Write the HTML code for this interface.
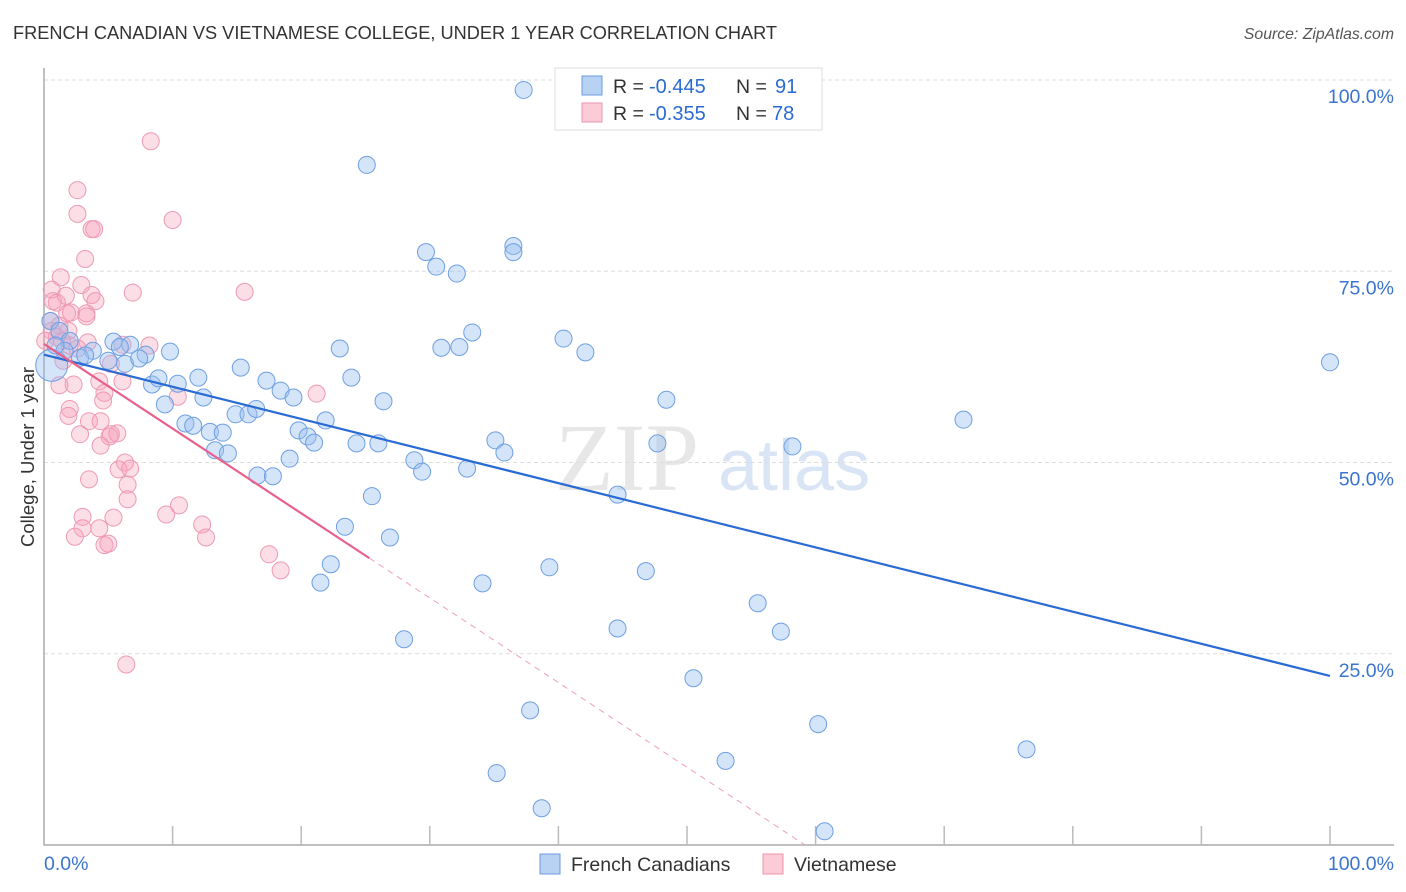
<!DOCTYPE html>
<html><head><meta charset="utf-8">
<style>
body{margin:0;background:#fff;font-family:"Liberation Sans",sans-serif;}
svg{display:block}
</style></head>
<body>
<svg id="chart" width="1406" height="892" viewBox="0 0 1406 892" xmlns="http://www.w3.org/2000/svg">
<text x="13" y="39" font-size="18.2" fill="#333" font-family="Liberation Sans, sans-serif">FRENCH CANADIAN VS VIETNAMESE COLLEGE, UNDER 1 YEAR CORRELATION CHART</text>
<text x="1394" y="39" font-size="15.8" fill="#555" font-style="italic" text-anchor="end">Source: ZipAtlas.com</text>
<g>
<text x="555" y="490" font-size="96" fill="#ddd" font-family="Liberation Serif, serif" opacity="0.7">ZIP</text>
<text x="718" y="490" font-size="72" fill="#c9daf0" opacity="0.7">atlas</text>
</g>
<g id="grid"></g>
<g id="axes"></g>
<g id="pts"></g>
<g id="lines"></g>
<text transform="translate(34,457) rotate(-90)" font-size="18.5" fill="#333" text-anchor="middle">College, Under 1 year</text>
<g>
<rect x="555" y="68" width="267" height="62" fill="#fff" stroke="#ddd"/>
<rect x="582" y="76" width="20" height="19" fill="#b8d2f3" stroke="#6d9be0"/>
<rect x="582" y="103" width="20" height="19" fill="#fbcbd8" stroke="#ec94ae"/>
<text x="613" y="93" font-size="19.5" fill="#333">R =</text>
<text x="649" y="93" font-size="20" fill="#2a6bd3">-0.445</text>
<text x="736" y="93" font-size="19.5" fill="#333">N =</text>
<text x="775" y="93" font-size="20" fill="#2a6bd3">91</text>
<text x="613" y="120" font-size="19.5" fill="#333">R =</text>
<text x="649" y="120" font-size="20" fill="#2a6bd3">-0.355</text>
<text x="736" y="120" font-size="19.5" fill="#333">N =</text>
<text x="772" y="120" font-size="20" fill="#2a6bd3">78</text>
</g>
<g>
<rect x="540" y="854" width="20" height="20" fill="#b8d2f3" stroke="#6d9be0"/>
<text x="571" y="871" font-size="19.5" fill="#333">French Canadians</text>
<rect x="763" y="854" width="20" height="20" fill="#fbcbd8" stroke="#ec94ae"/>
<text x="794" y="871" font-size="19.5" fill="#333">Vietnamese</text>
</g>
</svg>
<script>
const yTicks=[25,50,75,100];
const yTickLabels=["25.0%","50.0%","75.0%","100.0%"];
const xTickLabels=["0.0%","100.0%"];
const blueX=[37.3,25.1,29.7,36.5,36.5,30.5,32.1,33.3,30.9,32.3,40.4,42.1,100,23.0,9.8,5.4,6.7,7.9,5.9,3.8,2.8,5.0,6.3,7.4,8.4,8.9,10.4,12.0,15.3,17.3,18.4,19.4,23.9,26.4,9.4,12.4,14.9,15.9,16.5,11.0,11.6,12.9,13.9,19.8,20.5,21.0,21.9,24.3,26.0,13.3,14.3,19.1,16.6,17.8,28.8,29.4,32.9,35.1,35.8,48.4,47.7,58.2,71.5,44.6,25.5,23.4,26.9,22.3,21.5,34.1,39.3,46.8,55.5,44.6,57.3,28.0,50.5,37.8,60.2,53.0,76.4,35.2,38.7,60.7,0.6,0.5,1.2,2.0,3.2,1.6,0.9];
const blueY=[98.7,88.9,77.5,78.3,77.5,75.6,74.7,67.0,65.0,65.1,66.2,64.4,63.1,64.9,64.5,65.8,65.4,64.1,65.1,64.6,63.7,63.3,62.9,63.6,60.2,61.0,60.3,61.1,62.4,60.7,59.4,58.5,61.1,58.0,57.6,58.5,56.3,56.3,57.0,55.1,54.8,54.0,53.9,54.2,53.4,52.6,55.5,52.5,52.5,51.6,51.2,50.5,48.3,48.2,50.3,48.8,49.2,52.9,51.3,58.2,52.5,52.1,55.6,45.8,45.6,41.6,40.2,36.7,34.3,34.2,36.3,35.8,31.6,28.3,27.9,26.9,21.8,17.6,15.8,11.0,12.5,9.4,4.8,1.8,62.7,68.5,67.2,65.9,64.0,64.6,65.3];
const pinkX=[8.3,2.6,2.6,10.0,3.7,3.9,3.2,1.3,0.6,2.9,3.7,4.0,6.9,15.6,1.0,2.1,3.3,3.3,1.8,0.5,1.2,0.6,1.9,1.0,1.4,6.1,8.2,3.4,2.0,2.6,5.2,1.5,4.3,2.3,1.2,6.1,4.7,4.6,10.4,21.2,2.0,1.9,3.5,4.4,5.2,2.8,5.1,5.7,4.4,6.3,5.8,6.7,3.5,6.5,6.5,10.5,9.5,3.0,5.4,12.3,3.0,4.3,12.6,2.4,4.7,5.0,17.5,18.4,6.4,0.1,0.7,1.7];
const pinkY=[92.0,85.6,82.5,81.7,80.5,80.5,76.6,74.2,72.6,73.2,71.9,71.1,72.2,72.3,70.9,69.6,69.5,69.1,69.5,68.5,67.9,67.2,67.2,66.4,65.9,65.4,65.3,65.7,65.3,64.9,62.9,63.3,60.6,60.2,60.1,60.6,59.1,58.1,58.6,59.0,57.0,56.1,55.4,55.4,53.7,53.7,53.4,53.8,52.2,50.0,49.1,49.2,47.8,47.1,45.2,44.4,43.2,42.9,42.8,41.9,41.4,41.4,40.2,40.3,39.2,39.4,38.0,35.9,23.6,65.9,71.1,71.8];
const blueTrend=[64.1,22.1];
const pinkTrend=[65.5,37.5,25.3];

const NS="http://www.w3.org/2000/svg";
const X0=44,X1=1330,Y0=845,Y100=80;
const sx=v=>X0+(X1-X0)*v/100;
const sy=v=>Y0-(Y0-Y100)*v/100;
function mk(parent,tag,attrs){const e=document.createElementNS(NS,tag);for(const k in attrs)e.setAttribute(k,attrs[k]);document.getElementById(parent).appendChild(e);return e;}

yTicks.forEach((t,i)=>{
  const g=mk('grid','line',{x1:X0,x2:1394,y1:sy(t),y2:sy(t),stroke:'#ddd','stroke-dasharray':'4,3'});
  
  
  const l=mk('grid','text',{x:1394,y:sy(t)+23,'font-size':19.5,fill:'#3a73d0','text-anchor':'end'});
  
  
  l.textContent=yTickLabels[i];
});
const ax=mk('axes','path',{d:`M${X0},68V${Y0}H1394`,stroke:'#aaa',fill:'none','stroke-width':1.5});


for(let i=1;i<=10;i++){
  const t=mk('axes','line',{x1:sx(i*10),x2:sx(i*10),y1:Y0,y2:Y0-19,stroke:'#bbb','stroke-width':1.5});
  
  
}
[[0,'start',X0],[1,'end',1394]].forEach(([i,a,x])=>{
  const l=mk('axes','text',{x:x,y:870,'font-size':19.5,fill:'#3a73d0','text-anchor':a});
  
  
  l.textContent=xTickLabels[i];
});
pinkX.forEach((v,i)=>{
  const c=mk('pts','circle',{cx:sx(v),cy:sy(pinkY[i]),r:8.5,fill:'rgba(246,160,185,0.35)',stroke:'#ee9ab3','stroke-width':1});
  
  
});
blueX.forEach((v,i)=>{
  const c=mk('pts','circle',{cx:sx(v),cy:sy(blueY[i]),r:i===84?16:8.5,fill:'rgba(150,190,240,0.4)',stroke:'#6e9fe2','stroke-width':1});
  
  
});
const bl=mk('lines','line',{x1:sx(0),y1:sy(blueTrend[0]),x2:sx(100),y2:sy(blueTrend[1]),stroke:'#2a6bd3','stroke-width':2.2});


const slope=(pinkTrend[1]-pinkTrend[0])/pinkTrend[2];
const xEnd=-pinkTrend[0]/slope;
const pl=mk('lines','line',{x1:sx(0),y1:sy(pinkTrend[0]),x2:sx(pinkTrend[2]),y2:sy(pinkTrend[1]),stroke:'#e8608b','stroke-width':2.2});


const pd=mk('lines','line',{x1:sx(pinkTrend[2]),y1:sy(pinkTrend[1]),x2:sx(xEnd),y2:sy(0),stroke:'#eea0b8','stroke-width':1,'stroke-dasharray':'6,5'});


</script>
</body></html>
